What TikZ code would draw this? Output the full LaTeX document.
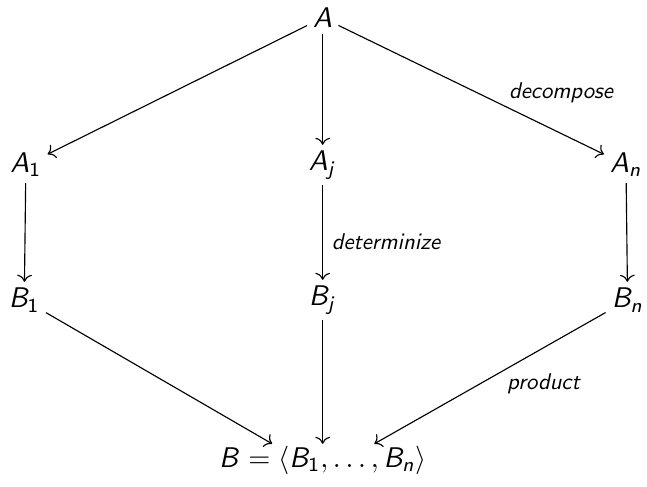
\documentclass[tikz,border=0pt]{standalone}
\usetikzlibrary{arrows.meta}
% sans serif math letters, as in slides
\DeclareSymbolFont{sfletters}{OT1}{cmss}{m}{sl}
\DeclareSymbolFont{sfupright}{OT1}{cmss}{m}{n}
\DeclareMathSymbol{A}{\mathalpha}{sfletters}{`A}
\DeclareMathSymbol{B}{\mathalpha}{sfletters}{`B}
\DeclareMathSymbol{j}{\mathalpha}{sfletters}{`j}
\DeclareMathSymbol{n}{\mathalpha}{sfletters}{`n}
\DeclareMathSymbol{1}{\mathalpha}{sfupright}{`1}
\font\lblfont=cmssi10 at 8pt
\begin{document}
\begin{tikzpicture}[
  obj/.style={inner sep=2pt},
  arr/.style={-{To}, thin},
  lbl/.style={font=\lblfont, inner sep=1pt},
]
\useasboundingbox (0,0) rectangle (8,-6.01);
\node[obj] (a) at (3.99,-0.22) {$A$};
\node[obj] (a1) at (0.32,-2.04) {$A_1$};
\node[obj] (aj) at (3.99,-2.04) {$A_j$};
\node[obj] (an) at (7.74,-2.04) {$A_n$};
\node[obj] (b1) at (0.30,-3.71) {$B_1$};
\node[obj] (bj) at (3.99,-3.71) {$B_j$};
\node[obj] (bn) at (7.76,-3.71) {$B_n$};
% deep box, so the arrows aim low
\node[obj, inner sep=0.5pt, text depth=11.7pt] (b) at (3.99,-5.85) {$B = \langle B_1, \ldots, B_n \rangle$};
\draw[arr] (a) -- (a1);
\draw[arr] (a) -- (aj);
\draw[arr] (a) -- node[lbl, pos=0.63, above right]{decompose} (an);
\draw[arr] (a1) -- (b1);
\draw[arr] (aj) -- node[lbl, pos=0.6, right, inner sep=3pt]{determinize} (bj);
\draw[arr] (an) -- (bn);
\draw[arr] (b1) -- (b);
\draw[arr] (bj) -- (b);
\draw[arr] (bn) -- node[lbl, pos=0.44, below right]{product} (b);
\end{tikzpicture}
\end{document}
